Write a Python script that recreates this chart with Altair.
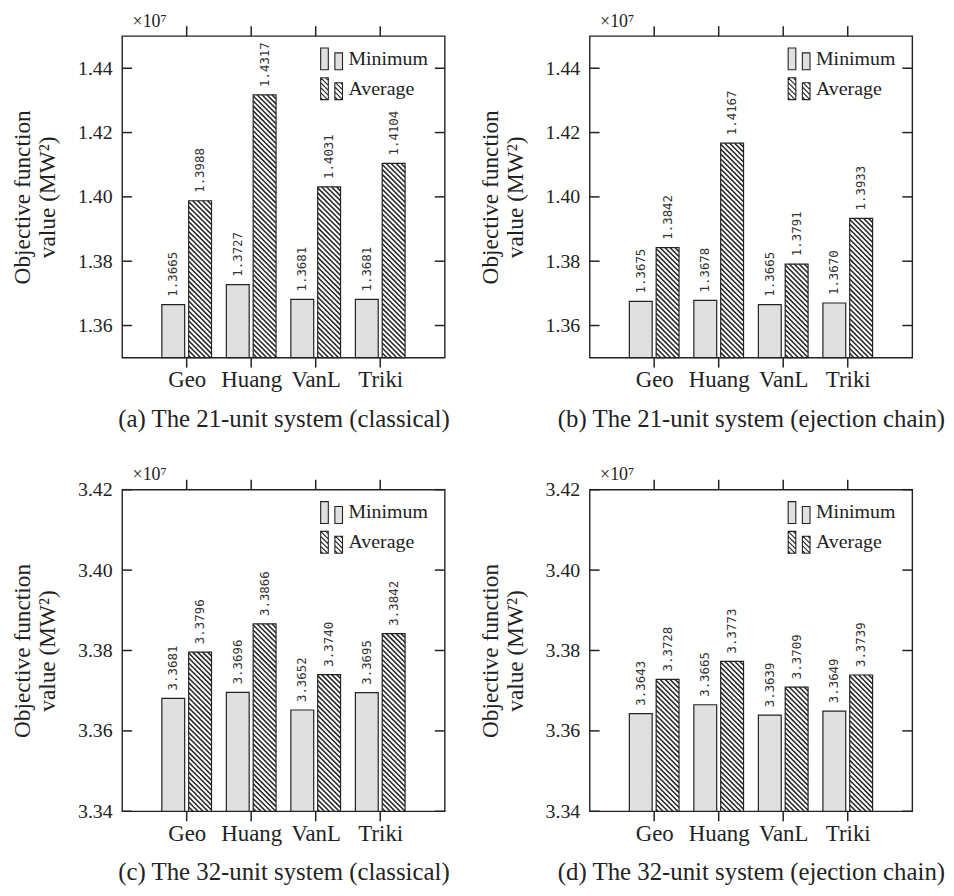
import math
import altair as alt
import pandas as pd

# ---------------- data ----------------
categories = ["Geo", "Huang", "VanL", "Triki"]
series = ["Minimum", "Average"]

a_min = [1.3665, 1.3727, 1.3681, 1.3681]
a_avg = [1.3988, 1.4317, 1.4031, 1.4104]
b_min = [1.3675, 1.3678, 1.3665, 1.3670]
b_avg = [1.3842, 1.4167, 1.3791, 1.3933]
c_min = [3.3681, 3.3696, 3.3652, 3.3695]
c_avg = [3.3796, 3.3866, 3.3740, 3.3842]
d_min = [3.3643, 3.3665, 3.3639, 3.3649]
d_avg = [3.3728, 3.3773, 3.3709, 3.3739]

captions = [
    "(a) The 21-unit system (classical)",
    "(b) The 21-unit system (ejection chain)",
    "(c) The 32-unit system (classical)",
    "(d) The 32-unit system (ejection chain)",
]
ticks_21 = [1.36, 1.38, 1.40, 1.42, 1.44]
ticks_32 = [3.34, 3.36, 3.38, 3.40, 3.42]
domain_21 = [1.35, 1.45]
domain_32 = [3.34, 3.42]
y_title = ["Objective function", "value (MW\u00b2)"]
scale_note = "\u00d710\u2077"

# ---------------- style ----------------
W, H = 325, 324
BW, GAP = 0.354, 0.062      # bar width / gap in category units
P = 5.0                     # hatch period (px)
SERIF = "Liberation Serif"
MONO = "DejaVu Sans Mono"
INK = "#222222"
GRAY = "#e0e0e0"


def bars_table(mins, avgs):
    rows = []
    for i, cat in enumerate(categories, start=1):
        for s, v in zip(series, (mins[i - 1], avgs[i - 1])):
            xl = i - GAP / 2 - BW if s == "Minimum" else i + GAP / 2
            rows.append(dict(cat=cat, series=s, value=v, xl=xl, xr=xl + BW,
                             xc=xl + BW / 2, label=f"{v:.4f}"))
    return pd.DataFrame(rows)


def line_table(df, dom, ticks):
    """Hatch lines of the Average bars plus the frame tick marks, as segments."""
    nx = len(categories) + 1
    pxx = W / nx
    pxy = H / (dom[1] - dom[0])
    segs = []
    for r in df[df.series == "Average"].itertuples():
        w = (r.xr - r.xl) * pxx
        h = (r.value - dom[0]) * pxy
        for k in range(math.ceil(-w / P) - 1, math.floor(h / P) + 2):
            c = k * P + 1.0
            u0 = max(0.0, -c)
            u1 = min(w, h - c)
            if u1 - u0 < 0.5:
                continue
            segs.append(dict(x=r.xl + u0 / pxx, x2=r.xl + u1 / pxx,
                             y=r.value - (u0 + c) / pxy,
                             y2=r.value - (u1 + c) / pxy))
    # x ticks: outward, bottom and top
    for i in range(1, len(categories) + 1):
        segs.append(dict(x=float(i), x2=float(i), y=dom[0] - 10 / pxy, y2=dom[0]))
        segs.append(dict(x=float(i), x2=float(i), y=dom[1], y2=dom[1] + 10 / pxy))
    # y ticks: inward, left and right
    for t in ticks:
        segs.append(dict(x=0.0, x2=10 / pxx, y=t, y2=t))
        segs.append(dict(x=nx - 10 / pxx, x2=float(nx), y=t, y2=t))
    return pd.DataFrame(segs)


def legend_path(hatched):
    rects = [(-1.0, -0.3, -1.0, 1.0), (0.3, 1.0, -0.55, 1.0)]
    q = P / 11.0
    parts = []
    for x0, x1, y0, y1 in rects:
        parts.append(f"M{x0},{y0}H{x1}V{y1}H{x0}Z")
        if hatched:
            k = math.ceil((y0 - x1) / q)
            while k * q <= (y1 - x0):
                c = k * q
                xa = max(x0, y0 - c)
                xb = min(x1, y1 - c)
                if xb - xa > 0.05:
                    parts.append(f"M{xa:.3f},{xa + c:.3f}L{xb:.3f},{xb + c:.3f}")
                k += 1
    return "".join(parts)


PATH_MIN = legend_path(False)
PATH_AVG = legend_path(True)
label_expr = "[" + ",".join(f"'{c}'" for c in categories) + "][datum.value - 1]"


def panel(mins, avgs, dom, ticks, caption):
    df = bars_table(mins, avgs)
    ld = line_table(df, dom, ticks)
    xs = alt.Scale(domain=[0, len(categories) + 1], nice=False, zero=False)
    ys = alt.Scale(domain=dom, nice=False, zero=False)
    cat_vals = list(range(1, len(categories) + 1))

    x_bottom = alt.Axis(values=cat_vals, labelExpr=label_expr, ticks=False,
                        domain=False, grid=False,
                        labelFont=SERIF, labelFontSize=23, labelColor=INK,
                        labelPadding=11, labelOverlap=False, labelFlush=False,
                        title=caption, titleFont=SERIF, titleFontSize=25,
                        titleFontWeight="normal", titleColor=INK, titlePadding=15,
                        orient="bottom")
    x_top = alt.Axis(values=cat_vals, labels=False, ticks=False, domain=False,
                     grid=False, orient="top",
                     title=scale_note, titleFont=SERIF, titleFontSize=18,
                     titleFontWeight="normal", titleColor=INK, titleAlign="left",
                     titleBaseline="alphabetic", titleX=10, titleY=-10)
    y_left = alt.Axis(values=ticks, format=".2f", ticks=False, domain=False,
                      grid=False, labelFont=SERIF, labelFontSize=20,
                      labelColor=INK, labelPadding=10, labelOverlap=False,
                      title=y_title, titleFont=SERIF, titleFontSize=23.5,
                      titleFontWeight="normal", titleColor=INK, titleLineHeight=25,
                      titlePadding=18, orient="left")

    legend = alt.Legend(
        orient="none", legendX=199, legendY=11, title=None, direction="vertical",
        symbolSize=484, symbolStrokeColor=INK, symbolStrokeWidth=1.1,
        labelFont=SERIF, labelFontSize=20, labelColor=INK, labelOffset=5,
        rowPadding=2,
        symbolType={"expr": f"datum.value === 'Average' ? '{PATH_AVG}' : '{PATH_MIN}'"},
    )

    bars = alt.Chart(df).mark_bar(stroke=INK, strokeWidth=1.2).encode(
        x=alt.X("xl:Q", scale=xs, axis=x_bottom),
        x2="xr:Q",
        y=alt.Y("value:Q", scale=ys, axis=y_left),
        y2=alt.datum(dom[0]),
        fill=alt.Fill("series:N", scale=alt.Scale(domain=series, range=[GRAY, "#ffffff"]),
                      legend=legend),
    )
    lines = alt.Chart(ld).mark_rule(color=INK, strokeWidth=1.5, strokeCap="butt").encode(
        x=alt.X("x:Q", scale=xs, axis=x_top),
        x2="x2:Q",
        y=alt.Y("y:Q", scale=ys, axis=None),
        y2="y2:Q",
    )
    text = alt.Chart(df).mark_text(angle=270, align="left", baseline="middle", dx=8,
                                   font=MONO, fontSize=12.5, color="#333333").encode(
        x=alt.X("xc:Q", scale=xs, axis=None),
        y=alt.Y("value:Q", scale=ys, axis=None),
        text="label:N",
    )

    return alt.layer(bars, lines, text).resolve_axis(
        x="independent", y="independent").properties(width=W, height=H)


pa = panel(a_min, a_avg, domain_21, ticks_21, captions[0])
pb = panel(b_min, b_avg, domain_21, ticks_21, captions[1])
pc = panel(c_min, c_avg, domain_32, ticks_32, captions[2])
pd_ = panel(d_min, d_avg, domain_32, ticks_32, captions[3])

chart = alt.concat(pa, pb, pc, pd_, columns=2,
                   spacing={"row": 133, "column": 146}, bounds="flush").resolve_scale(
    fill="independent").resolve_legend(fill="independent").configure(
    font=SERIF).configure_view(stroke=INK, strokeWidth=1.4).properties(
    padding={"left": 2, "top": 0, "right": 0, "bottom": 0})

chart.save("out.html", embed_options={"renderer": "svg", "actions": False})
